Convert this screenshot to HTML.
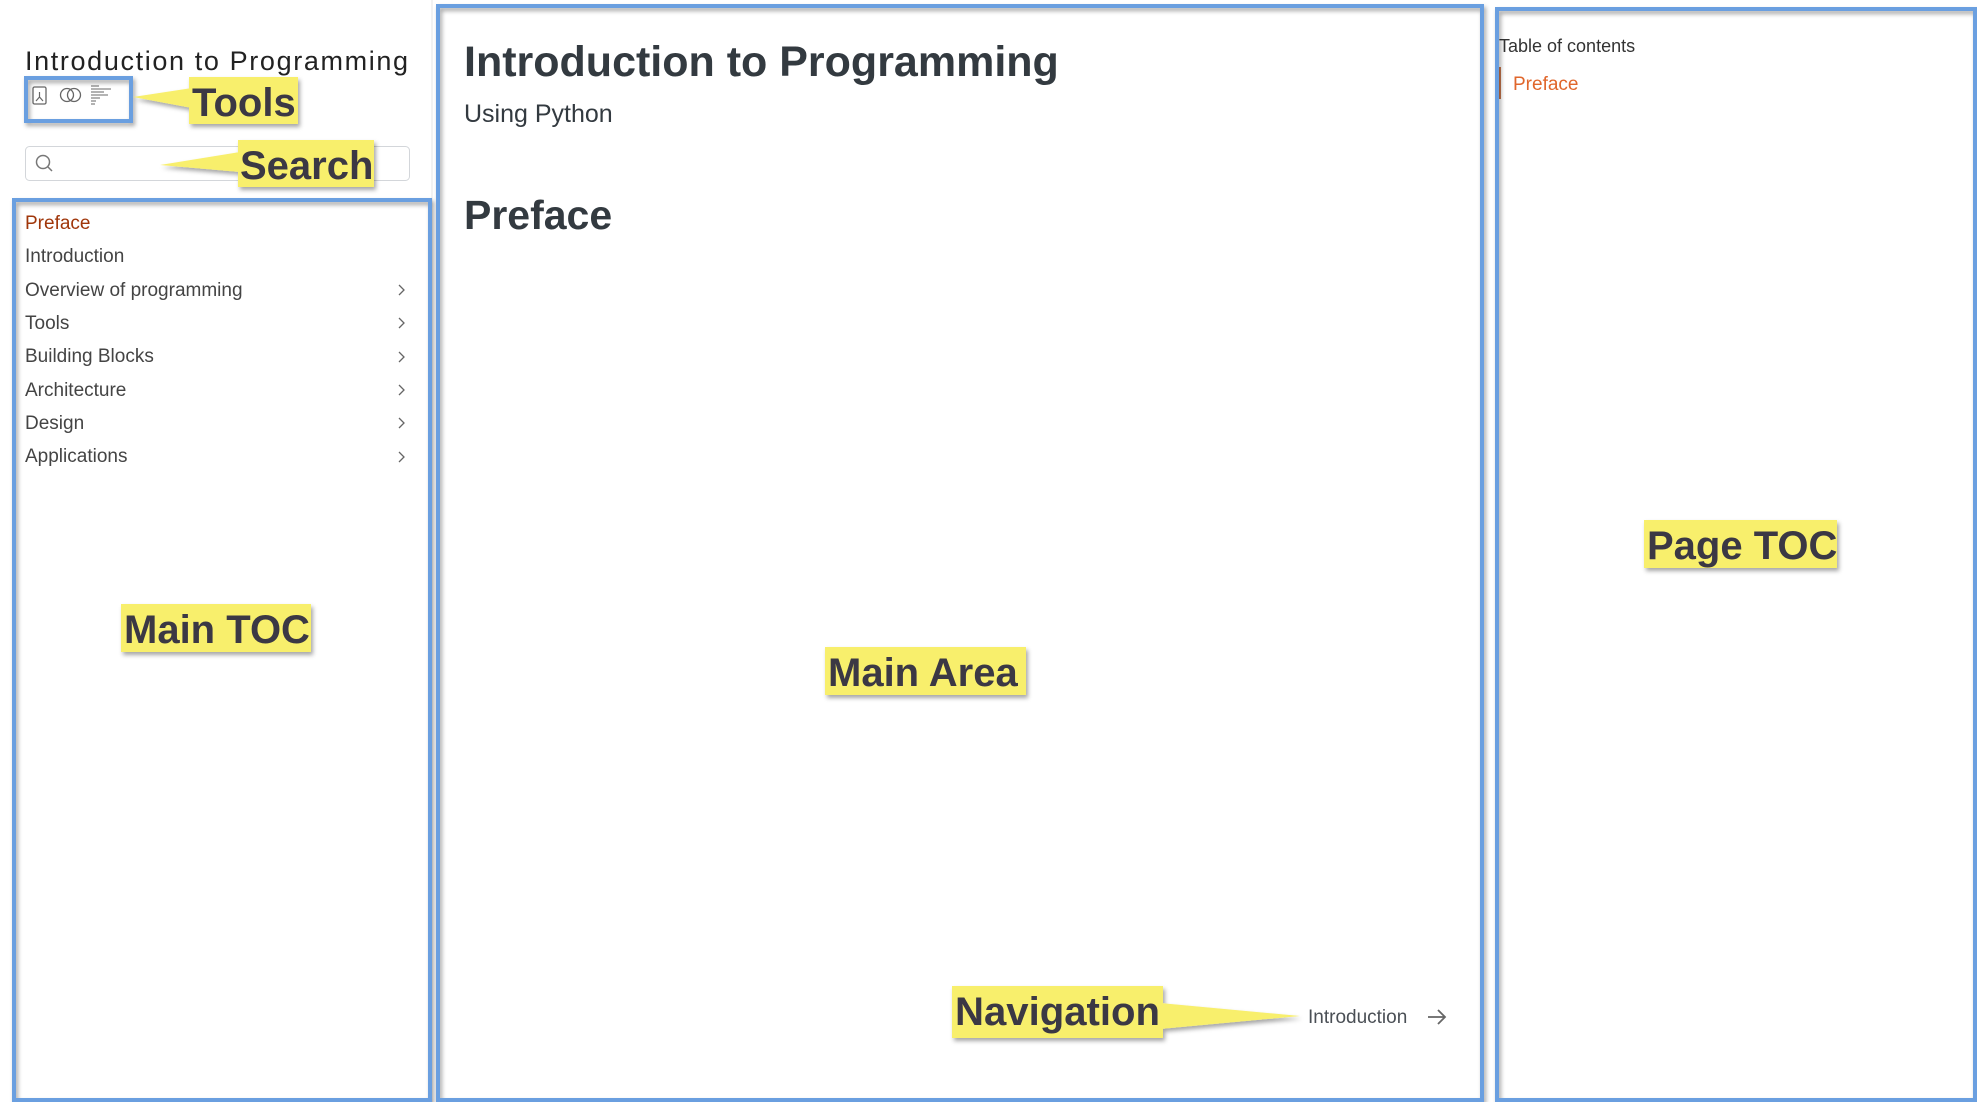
<!DOCTYPE html>
<html><head><meta charset="utf-8"><style>
html,body{margin:0;padding:0;background:#fff;width:1977px;height:1102px;overflow:hidden}
svg{display:block}
text{font-family:"Liberation Sans",sans-serif}
.lbl{font-weight:bold;font-size:40px;fill:#3b3844}
.nav{font-size:19px;fill:#4a4f55}
</style></head><body>
<svg width="1977" height="1102" viewBox="0 0 1977 1102">
<defs><filter id="sh" x="-10%" y="-10%" width="130%" height="140%"><feDropShadow dx="2" dy="3" stdDeviation="2" flood-color="#000" flood-opacity="0.35"/></filter></defs>
<!-- divider -->
<line x1="432" y1="0" x2="432" y2="1102" stroke="#e5e5e5" stroke-width="1"/>
<!-- sidebar title -->
<text x="25" y="70" font-size="27" fill="#222" textLength="383" lengthAdjust="spacing">Introduction to Programming</text>
<!-- tool icons -->
<rect x="33" y="87" width="13" height="17" rx="1.5" fill="none" stroke="#666" stroke-width="1.3"/>
<path d="M39.5 92 L39.5 97 M39.5 97 L36 101 M39.5 97 L43 101" stroke="#666" stroke-width="1.2" fill="none"/>
<circle cx="67" cy="95" r="6.5" fill="none" stroke="#666" stroke-width="1.3"/>
<circle cx="74" cy="95" r="6.5" fill="none" stroke="#666" stroke-width="1.3"/>
<g stroke="#888" stroke-width="1.3"><line x1="91" y1="86" x2="99" y2="86"/><line x1="91" y1="89" x2="111" y2="89"/><line x1="91" y1="92" x2="104" y2="92"/><line x1="91" y1="95" x2="108" y2="95"/><line x1="91" y1="98" x2="100" y2="98"/><line x1="91" y1="101" x2="96" y2="101"/><line x1="91" y1="104" x2="95" y2="104"/></g>
<!-- search -->
<rect x="25.5" y="146.5" width="384" height="34" rx="4" fill="#fff" stroke="#d3d6da"/>
<circle cx="43" cy="162" r="6.5" fill="none" stroke="#777" stroke-width="1.5"/>
<line x1="48" y1="167" x2="52" y2="171" stroke="#777" stroke-width="1.5"/>
<!-- nav list -->
<g font-size="19" fill="#444">
<text x="25" y="229" fill="#a0360a">Preface</text>
<text x="25" y="262">Introduction</text>
<text x="25" y="296">Overview of programming</text>
<text x="25" y="329">Tools</text>
<text x="25" y="362">Building Blocks</text>
<text x="25" y="396">Architecture</text>
<text x="25" y="429">Design</text>
<text x="25" y="462">Applications</text>
</g>
<g stroke="#666" stroke-width="1.3" fill="none">
<path d="M399 285 l5 5 l-5 5"/><path d="M399 318 l5 5 l-5 5"/><path d="M399 352 l5 5 l-5 5"/><path d="M399 385 l5 5 l-5 5"/><path d="M399 418 l5 5 l-5 5"/><path d="M399 452 l5 5 l-5 5"/>
</g>
<!-- main content -->
<text x="464" y="76" font-size="43" font-weight="bold" fill="#333a40">Introduction to Programming</text>
<text x="464" y="122" font-size="25" fill="#333a40">Using Python</text>
<text x="464" y="229" font-size="41" font-weight="bold" fill="#333a40">Preface</text>
<text x="1308" y="1023" class="nav">Introduction</text>
<path d="M1428 1017 H1445 M1438 1010 L1445 1017 L1438 1024" stroke="#666" stroke-width="1.8" fill="none"/>
<!-- page toc -->
<text x="1499" y="52" font-size="18" fill="#333">Table of contents</text>
<line x1="1500" y1="67" x2="1500" y2="99" stroke="#b5470f" stroke-width="1.5"/>
<text x="1513" y="90" font-size="19" fill="#e0662b">Preface</text>
<!-- blue frames -->
<g fill="none" stroke="#6a9fe0" stroke-width="4" filter="url(#sh)">
<rect x="26" y="78" width="105" height="43"/>
<rect x="14" y="200" width="416" height="900"/>
<rect x="438" y="6" width="1044" height="1094"/>
<rect x="1497" y="9" width="478" height="1091"/>
</g>
<!-- callouts -->
<g fill="#f8ef6c" filter="url(#sh)">
<polygon points="133,97 192,88 192,108"/>
<rect x="189" y="77" width="109" height="47"/>
<polygon points="160,165 240,152 240,172"/>
<rect x="238" y="140" width="136" height="47"/>
<rect x="121" y="604" width="190" height="48"/>
<rect x="825" y="647" width="201" height="48"/>
<rect x="1644" y="520" width="193" height="48"/>
<polygon points="1300,1016 1160,1003 1160,1029"/>
<rect x="952" y="986" width="211" height="52"/>
</g>
<text x="192" y="116" class="lbl">Tools</text>
<text x="240" y="179" class="lbl">Search</text>
<text x="124" y="643" class="lbl">Main TOC</text>
<text x="828" y="686" class="lbl">Main Area</text>
<text x="1647" y="559" class="lbl">Page TOC</text>
<text x="955" y="1025" class="lbl" textLength="205" lengthAdjust="spacingAndGlyphs">Navigation</text>
</svg>
</body></html>
